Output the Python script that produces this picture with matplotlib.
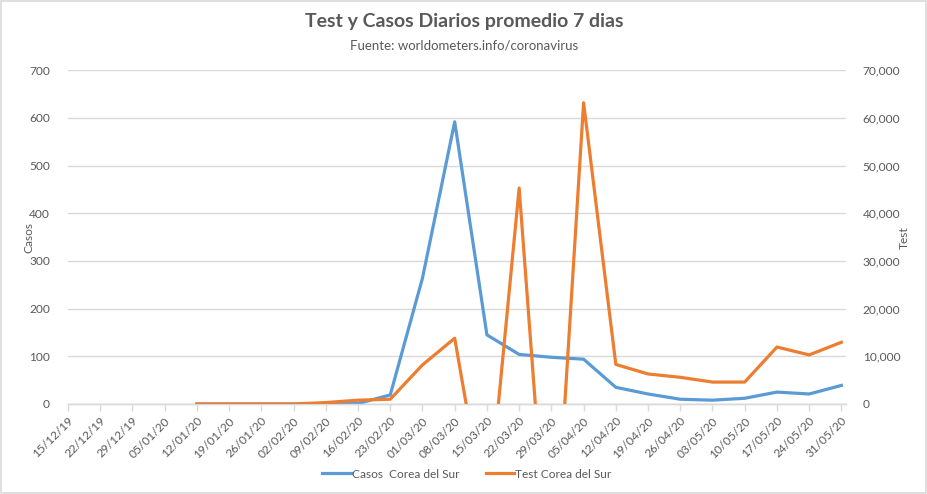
import numpy as np
import matplotlib
matplotlib.use("Agg")
import matplotlib.pyplot as plt
from matplotlib.lines import Line2D
from matplotlib.patches import Rectangle
from matplotlib.ticker import FuncFormatter, MultipleLocator

plt.rcParams['font.family'] = ['Lato', 'DejaVu Sans']

fechas = ["15/12/19", "22/12/19", "29/12/19", "05/01/20", "12/01/20", "19/01/20",
          "26/01/20", "02/02/20", "09/02/20", "16/02/20", "23/02/20", "01/03/20",
          "08/03/20", "15/03/20", "22/03/20", "29/03/20", "05/04/20", "12/04/20",
          "19/04/20", "26/04/20", "03/05/20", "10/05/20", "17/05/20", "24/05/20",
          "31/05/20"]

nan = np.nan
casos = [nan, nan, nan, nan, 0, 0, 0, 0, 0.5, 1, 19, 264, 592, 145, 104, 98, 94,
         35, 21, 10, 8, 12, 25, 21, 39]
tests = [nan, nan, nan, nan, 0, 0, 0, 0, 300, 800, 1000, 8200, 13800, -25000,
         45300, -45000, 63200, 8300, 6300, 5600, 4600, 4600, 11950, 10300, 12950]

AZUL = "#5B9BD5"
NARANJA = "#ED7D31"
GRIS = "#595959"
REJILLA = "#D9D9D9"

fig = plt.figure(figsize=(9.28, 4.94), dpi=100)
fig.patches.append(Rectangle((0.001, 0.002), 0.997, 0.996, transform=fig.transFigure,
                             fill=False, edgecolor=REJILLA, linewidth=1.2))

ax = fig.add_axes([68 / 928, 1 - 404 / 494, 778 / 928, 333.7 / 494])
ax2 = ax.twinx()

x = np.arange(len(fechas))
ax.plot(x, casos, color=AZUL, linewidth=2.3, solid_joinstyle='round', zorder=3)
ax2.plot(x, tests, color=NARANJA, linewidth=2.3, solid_joinstyle='round', zorder=3)

ax.set_xlim(0, len(fechas) - 1 + 1 / 7)
ax.set_ylim(0, 700)
ax2.set_ylim(0, 70000)
ax.yaxis.set_major_locator(MultipleLocator(100))
ax2.yaxis.set_major_locator(MultipleLocator(10000))
ax2.yaxis.set_major_formatter(FuncFormatter(lambda v, p: f"{int(v):,}"))

ax.grid(axis='y', color=REJILLA, linewidth=1.0, zorder=0)
ax.set_axisbelow(True)
for a in (ax, ax2):
    for s in ('top', 'left', 'right'):
        a.spines[s].set_visible(False)
    a.spines['bottom'].set_color(REJILLA)
    a.spines['bottom'].set_linewidth(1.0)

ax.set_xticks(x)
ax.set_xticklabels(fechas, rotation=45, ha='right', rotation_mode='anchor',
                   fontsize=8.6, color=GRIS)
ax.tick_params(axis='x', length=5, color=REJILLA, width=1.0, pad=3)
ax.tick_params(axis='y', length=0, pad=13, labelsize=8.6, labelcolor=GRIS)
ax2.tick_params(axis='y', length=0, pad=12, labelsize=8.6, labelcolor=GRIS)

ax.set_ylabel("Casos", color=GRIS, fontsize=8.6, labelpad=-4)
ax2.set_ylabel("Test", color=GRIS, fontsize=8.6, rotation=90, labelpad=-1)

fig.text(0.5, 1 - 21 / 494, "Test y Casos Diarios promedio 7 dias", ha='center',
         va='center', fontsize=14, fontweight='bold', color=GRIS)
fig.text(0.5, 1 - 46 / 494, "Fuente: worldometers.info/coronavirus", ha='center',
         va='center', fontsize=9.5, color=GRIS)

handles = [Line2D([], [], color=AZUL, linewidth=2.3),
           Line2D([], [], color=NARANJA, linewidth=2.3)]
fig.legend(handles, ["Casos  Corea del Sur", "Test Corea del Sur"], loc='center',
           bbox_to_anchor=(0.503, 1 - 474 / 494), ncol=2, frameon=False,
           fontsize=8.6, labelcolor=GRIS, handlelength=2.4, handletextpad=0.1,
           columnspacing=2.2)

fig.savefig("out.png", dpi=100)
